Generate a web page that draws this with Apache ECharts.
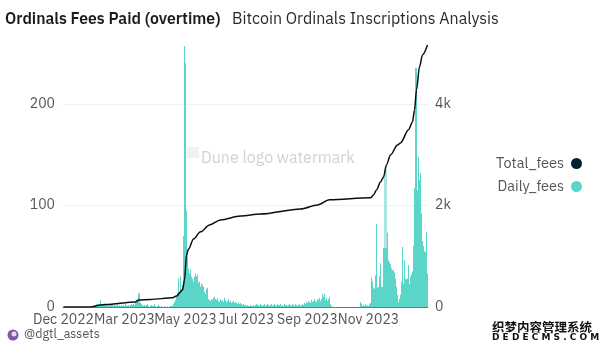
<!DOCTYPE html>
<html>
<head>
<meta charset="utf-8">
<style>
  html, body { margin: 0; padding: 0; background: #fff; }
  #chart { width: 600px; height: 354px; }
</style>
<script src="https://cdn.jsdelivr.net/npm/echarts@6/dist/echarts.min.js"></script>
</head>
<body>
<div id="chart"></div>
<script>
const tickLabels = ["Dec 2022", "Mar 2023", "May 2023", "Jul 2023", "Sep 2023", "Nov 2023"];
const tickStep = 61;

// one bar per day
const dailyFees = [
  0,0,0,0,0,0,0,0,0,0, 0,0,0,0,0,0,0,0,0,0, 0,0,0,0,0,0,0,0,0,0,
  1,2,1,3,2,3,2,7,3,2,
  2,3,2,2,3,1,2,3,2,2,
  1,2,2,1,3,1,2,1,2,1,
  2,1,3,2,1,2,1,2,3,2,
  3,2,4,5,6,13,14,4,3,2,
  1,2,1,2,3,1,0,1,2,1,
  1,3,1,0,1,2,1,0,1,0,
  0,1,0,0,1,0,0,1,1,1,
  3,5,7,10,14,28,12,30,18,22,
  70,257,240,95,55,38,33,37,30,28,
  25,30,33,30,32,24,25,20,23,22,
  20,15,13,18,19,8,7,6,8,7,
  9,10,8,7,9,6,5,8,6,7,
  5,9,7,5,6,8,5,6,4,5,
  6,4,5,4,3,5,3,4,3,2,
  3,2,2,1,2,1,1,2,1,1,
  2,1,2,3,2,2,1,3,2,1,
  2,3,1,2,3,2,1,2,3,1,
  2,3,2,1,3,2,2,3,1,2,
  1,3,2,2,1,2,3,2,1,3,
  2,1,3,2,1,2,3,1,2,3,
  2,4,3,5,4,6,5,4,7,5,
  6,8,6,5,8,7,9,6,8,13,
  10,13,7,9,6,8,10,3,1,0,
  0,0,0,0,0,0,0,0,0,0,
  0,0,0,0,0,0,0,0,0,0,
  0,0,0,0,0,0,0,5,3,1,
  2,1,3,1,2,1,3,4,29,25,
  19,18,31,82,19,20,30,43,20,20,
  58,58,58,58,73,46,44,42,38,36,
  37,34,28,20,12,5,8,12,25,59,
  23,46,28,27,28,41,23,30,32,35,
  60,117,235,235,115,148,125,132,92,65,
  60,55,54,74,33
];

// the pale tops of the November spike: [day, fees]
const fadedDays = [321, 322, 323];
const fadedFees = [135, 135, 135];

// running total, read at the days where the curve bends
const totalDays = [0, 27, 37, 42, 72, 75, 87, 109, 113, 119, 121, 123, 125, 130, 137, 146, 157, 177, 197, 237, 254, 266, 307, 310, 313, 317, 320, 323, 327, 334, 337, 345, 349, 351, 353, 356, 359, 364];
const totalFees = [0, 0, 40, 50, 100, 140, 150, 180, 215, 335, 530, 1025, 1140, 1340, 1480, 1615, 1715, 1790, 1830, 1930, 2010, 2110, 2150, 2205, 2305, 2460, 2560, 2800, 2995, 3190, 3230, 3490, 3645, 3880, 4275, 4730, 4965, 5160];

const categories = dailyFees.map((v, i) => (i % tickStep === 0 ? tickLabels[i / tickStep] : ""));

const font = "'IBM Plex Sans', 'Noto Sans', sans-serif";
const chart = echarts.init(document.getElementById("chart"), null, { renderer: "canvas" });

chart.setOption({
  animation: false,
  backgroundColor: "#fff",
  grid: { left: 63, right: 172, top: 45, bottom: 47 },
  title: [
    { text: "Ordinals Fees Paid (overtime)", left: 0, top: 6, textStyle: { fontFamily: font, fontSize: 15.8, fontWeight: 600, color: "#1c1c1c" } },
    { text: "Bitcoin Ordinals Inscriptions Analysis", left: 227, top: 6, textStyle: { fontFamily: font, fontSize: 16, fontWeight: 400, color: "#2a2a2a" } },
  ],
  legend: {
    orient: "vertical",
    right: 13,
    top: 151,
    align: "right",
    itemGap: 8,
    itemWidth: 11,
    itemHeight: 11,
    icon: "circle",
    textStyle: { fontFamily: font, fontSize: 14.5, color: "#555", padding: [0, 2, 0, 0] },
    data: ["Total_fees", "Daily_fees"],
  },
  xAxis: {
    type: "category",
    data: categories,
    axisTick: { show: false },
    axisLine: { lineStyle: { color: "#3f8f89", width: 1 } },
    axisLabel: { interval: tickStep - 1, fontFamily: font, fontSize: 14, color: "#555", margin: 6 },
  },
  yAxis: [
    {
      type: "value",
      min: 0,
      max: 258,
      interval: 100,
      axisLabel: { showMaxLabel: false, fontFamily: font, fontSize: 14, color: "#555", margin: 8 },
      splitLine: { showMaxLine: false, lineStyle: { color: "#eef1f1" } },
    },
    {
      type: "value",
      min: 0,
      max: 5160,
      interval: 2000,
      axisLabel: {
        showMaxLabel: false,
        fontFamily: font,
        fontSize: 14,
        color: "#555",
        margin: 7,
        formatter: (v) => (v === 0 ? "0" : v / 1000 + "k"),
      },
      splitLine: { show: false },
    },
  ],
  series: [
    {
      name: "Total_fees",
      type: "line",
      yAxisIndex: 1,
      z: 3,
      showSymbol: false,
      symbol: "circle",
      smooth: 0.3,
      smoothMonotone: "x",
      itemStyle: { color: "#04202f" },
      lineStyle: { color: "#0a0f14", width: 1.5 },
      data: totalDays.map((d, i) => [d, totalFees[i]]),
    },
    {
      name: "Daily_fees",
      type: "bar",
      barWidth: "100%",
      barGap: "-100%",
      z: 2,
      itemStyle: { color: "#5bd5c8" },
      data: dailyFees,
    },
    {
      name: "Daily_fees",
      type: "bar",
      barWidth: "100%",
      barGap: "-100%",
      z: 1,
      itemStyle: { color: "#a9e6df" },
      data: fadedDays.map((d, i) => [d, fadedFees[i]]),
    },
  ],
  graphic: [
    { type: "text", left: 201, top: 150, style: { text: "Dune logo watermark", fontFamily: font, fontSize: 16, fill: "#d2d2d2" } },
    { type: "rect", shape: { x: 187, y: 147, width: 12, height: 11 }, style: { fill: "#f1f1f1" } },
    { type: "circle", shape: { cx: 13, cy: 335, r: 5.5 }, style: { fill: "#7b5aa6" } },
    { type: "circle", shape: { cx: 14, cy: 334, r: 2.5 }, style: { fill: "#f3d9e6" } },
    { type: "text", left: 24, top: 328, style: { text: "@dgtl_assets", fontFamily: font, fontSize: 12.5, fill: "#555" } },
    { type: "rect", shape: { x: 490, y: 319, width: 101, height: 24 }, style: { fill: "#ffffff" } },
    { type: "text", left: 491, top: 320, style: { text: "织梦内容管理系统", fontFamily: "'Noto Sans CJK SC'", fontSize: 12.5, fontWeight: 700, fill: "#111", stroke: "#fff", lineWidth: 2 } },
    { type: "text", left: 491, top: 332, style: { text: "D E D E C M S . C O M", fontFamily: "'DejaVu Sans'", fontSize: 9, fontWeight: 700, fill: "#111", stroke: "#fff", lineWidth: 2 } },
  ],
});
</script>
</body>
</html>
